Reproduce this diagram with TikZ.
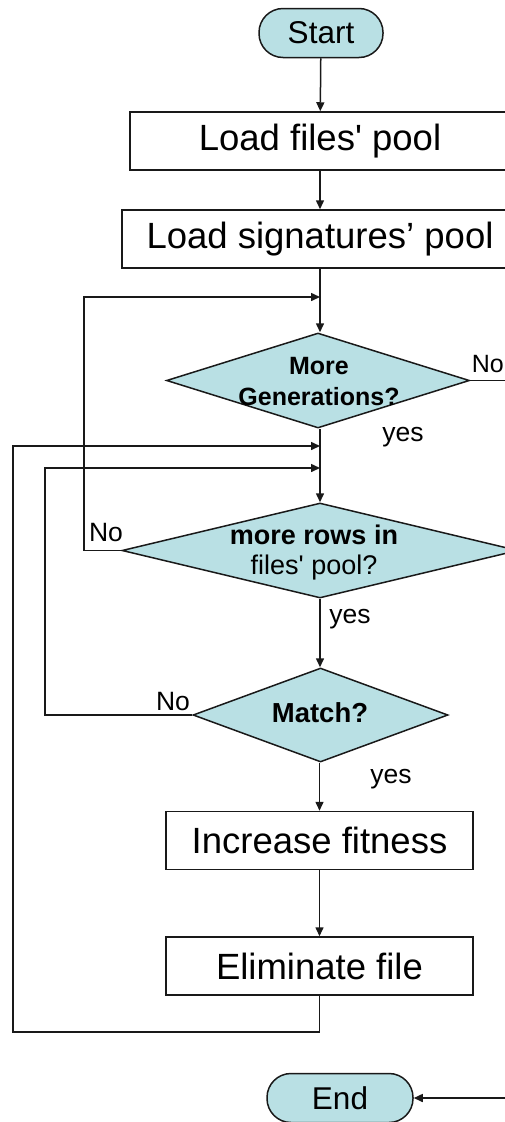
\documentclass[tikz,border=0pt]{standalone}
\usepackage{fontspec}
\setmainfont{Liberation Sans}
\usetikzlibrary{shapes.geometric,arrows.meta}
\definecolor{flowfill}{RGB}{185,224,228}
\definecolor{flowline}{RGB}{25,25,25}

\begin{document}
\begin{tikzpicture}[x=1pt,y=-1pt,
  conn/.style={draw=flowline, line width=1.5pt},
  arr/.style={conn, -{Triangle[length=9pt,width=8pt]}},
  terminal/.style={draw=flowline, line width=1.5pt, fill=flowfill,
    rounded corners=24pt, minimum height=49pt, inner sep=0pt,
    font=\fontsize{31.5}{36}\selectfont},
  process/.style={draw=flowline, line width=1.5pt, minimum height=58pt,
    inner sep=0pt, font=\fontsize{36.5}{42}\selectfont},
  decision/.style={diamond, draw=flowline, line width=1.5pt, fill=flowfill,
    inner sep=0pt},
  dtext/.style={align=center, inner sep=0pt, font=\fontsize{25}{31}\selectfont},
  lbl/.style={inner sep=0pt, font=\fontsize{26.5}{30}\selectfont}
]
\useasboundingbox (0,0) rectangle (505,1122);
\clip (0,0) rectangle (505,1122);

% terminals and process boxes
\node[terminal, minimum width=124pt] (start) at (321,33) {Start};
\node[process, minimum width=380pt] (loadfiles) at (320,141) {Load files\textquotesingle{} pool};
\node[process, minimum width=396pt] (loadsigs) at (320,239) {Load signatures’ pool};

% decisions (shape and text are separate nodes so the text may overhang)
\node[decision, minimum width=303pt, minimum height=95pt] (gen) at (318,380.5) {};
\node[dtext] (gentext) at (319,382) {\textbf{More}\\\textbf{Generations?}};
\node[decision, minimum width=396pt, minimum height=95pt] (rows) at (320,550.5) {};
\node[dtext, font=\fontsize{27}{30}\selectfont] (rowstext) at (314,553)
  {\textbf{more rows in}\\files\textquotesingle{} pool?};
\node[decision, minimum width=255pt, minimum height=94pt] (match) at (320.5,715) {};
\node[dtext, font=\fontsize{27.5}{31}\selectfont] (matchtext) at (320,713) {\textbf{Match?}};

\node[process, minimum width=307pt] (inc) at (319.5,840.5) {Increase fitness};
\node[process, minimum width=307pt] (elim) at (319.5,966) {Eliminate file};
\node[terminal, minimum width=146pt] (end) at (340,1098) {End};

% merge points on the main line
\coordinate (m1) at (320,297);
\coordinate (m2) at (320,446);
\coordinate (m3) at (320,468);

% main flow
\draw[arr] (start) -- (loadfiles);
\draw[arr] (loadfiles) -- (loadsigs);
\draw[arr] (loadsigs.south) -- (loadsigs.south |- gen.north);
\draw[arr] (gen.south -| rows.north) -- (rows.north);
\draw[arr] (rows.south) -- (match.north -| rows.south);
\draw[arr] (match.south -| inc.north) -- (inc.north);
\draw[arr] (inc) -- (elim);

% loop back: no more rows -> next generation
\draw[arr] (rows.west) -- (84,550.5) -- (84,297) -- (m1);
% loop back: no match -> next row
\draw[arr] (match.west) -- (45,715) -- (45,468) -- (m3);
% loop back: after elimination -> next row
\draw[arr] (elim.south) -- (319.5,1032) -- (13,1032) -- (13,446) -- (m2);
% no more generations -> end
\draw[arr] (gen.east) -- (520,380.5) -- (520,1098) -- (end.east);

% branch labels
\node[lbl, font=\fontsize{25}{30}\selectfont, anchor=east] (genno) at (504,364) {No};
\node[lbl] (genyes) at (403,437) {yes};
\node[lbl] (rowsno) at (106,533) {No};
\node[lbl] (rowsyes) at (350,619) {yes};
\node[lbl] (matchno) at (173,702) {No};
\node[lbl] (matchyes) at (391,779) {yes};
\end{tikzpicture}
\end{document}
